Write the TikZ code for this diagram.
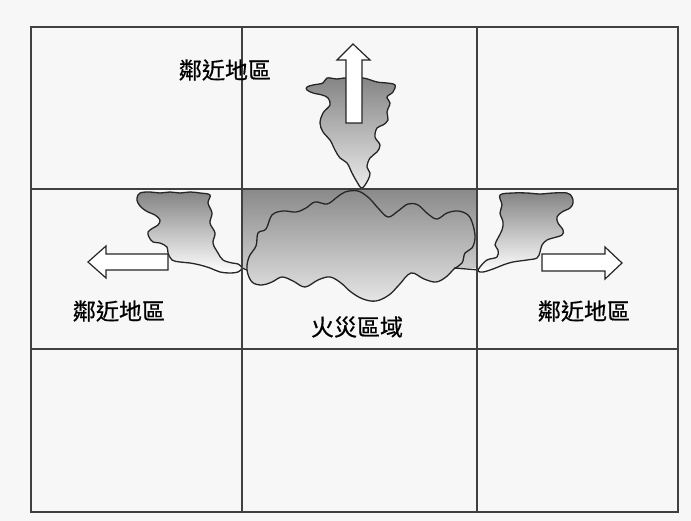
\documentclass[tikz,border=0pt]{standalone}
\usepackage{fontspec}
\newfontfamily\cjk[FakeBold=0.6]{Noto Sans CJK TC}
\tikzstyle{grid line}=[draw=black!75,line width=1.6pt]
\tikzstyle{outline}=[draw=black!85,line width=1.3pt,line join=round]
\tikzstyle{smoke}=[outline,top color=black!48,bottom color=white]
\tikzstyle{outflow}=[draw=black!85,line width=1.2pt,fill=white,line join=miter]
\tikzstyle{area label}=[font=\cjk\fontsize{23}{23}\selectfont,inner sep=0pt]

\newcommand{\firecloud}{plot[smooth cycle,tension=0.6] coordinates {
  (247,270) (249,257) (256,246) (258,233) (266,229) (272,215) (283,211)
  (296,212) (306,208) (315,202) (327,204) (336,198) (345,192) (358,191)
  (369,198) (378,208) (388,217) (398,211) (408,204) (418,205) (428,214)
  (437,219) (447,213) (458,211) (468,215) (473,225) (475,238) (472,248)
  (465,253) (462,263) (454,269) (446,277) (436,282) (424,279) (411,273)
  (399,285) (389,295) (376,301) (363,299) (351,292) (341,283) (330,277)
  (318,280) (305,287) (293,281) (282,277) (272,282) (262,285) (252,282)}}

\begin{document}
\begin{tikzpicture}[x=1pt,y=-1pt]
  \useasboundingbox (0,0) rectangle (691,521);
  \fill[black!3] (0,0) rectangle (691,521);

  % burning cell, shaded down into the cloud
  \shade[top color=black!46,bottom color=black!10]
    (242,268) -- (242,189) -- (477,189) -- (477,268) -- cycle \firecloud;
  \draw[outline] \firecloud;
  \draw[outline] (242,268) -- (247,270);
  \draw[outline] (454,268) -- (479,270);

  % smoke drifting into the neighbouring cells
  \draw[smoke] plot[smooth cycle,tension=0.6] coordinates {
    (140,193) (150,192) (160,193) (170,192) (180,193) (190,192) (200,193)
    (210,195) (208,203) (212,213) (210,223) (215,233) (213,243) (218,253)
    (223,260) (232,263) (238,264) (242,268) (238,272) (230,273) (220,272)
    (210,268) (200,265) (190,263) (180,262) (172,260) (168,253) (167,247)
    (160,243) (153,242) (149,237) (148,232) (153,228) (158,225) (160,220)
    (155,215) (148,212) (142,208) (138,203) (137,198)};
  \draw[smoke] plot[smooth cycle,tension=0.6] coordinates {
    (500,195) (513,193) (527,193) (540,194) (553,193) (567,193) (572,197)
    (573,203) (570,208) (562,212) (557,217) (558,223) (563,230) (562,235)
    (553,238) (547,240) (542,245) (540,252) (537,258) (527,260) (513,262)
    (503,265) (493,269) (483,272) (478,271) (480,267) (487,260) (497,257)
    (498,250) (495,245) (498,238) (502,230) (503,222) (500,213) (502,205)};
  \draw[smoke,bottom color=black!8] plot[smooth cycle,tension=0.6] coordinates {
    (362,188) (357,182) (352,173) (347,163) (340,158) (335,150) (330,140)
    (323,132) (320,123) (323,113) (330,105) (328,98) (322,95) (313,93)
    (307,90) (307,87) (313,85) (323,83) (327,78) (337,79) (345,78)
    (363,78) (377,82) (387,83) (395,85) (393,92) (387,97) (390,103)
    (387,112) (388,120) (383,125) (377,128) (375,137) (380,145) (377,152)
    (370,158) (367,167) (370,173) (368,180)};

  \foreach \x in {242,477} \draw[grid line] (\x,27) -- (\x,512);
  \foreach \y in {189,349} \draw[grid line] (31,\y) -- (678,\y);
  \draw[grid line] (31,27) rectangle (678,512);

  % outflow arrows
  \draw[outflow] (346,123) -- (346,60) -- (337,60) -- (353,44) -- (370,60)
    -- (362,60) -- (362,123) -- cycle;
  \draw[outflow] (168,254) -- (106,254) -- (106,246) -- (88,262) -- (106,278)
    -- (106,270) -- (168,270) -- cycle;
  \draw[outflow] (542,254) -- (605,254) -- (605,247) -- (622,263) -- (605,279)
    -- (605,271) -- (542,271) -- cycle;

  \node[area label] (nbTop) at (225,70) {鄰近地區};
  \node[area label] (nbLeft) at (119,311) {鄰近地區};
  \node[area label] (nbRight) at (584,311) {鄰近地區};
  \node[area label] (fireZone) at (357,327) {火災區域};
\end{tikzpicture}
\end{document}
